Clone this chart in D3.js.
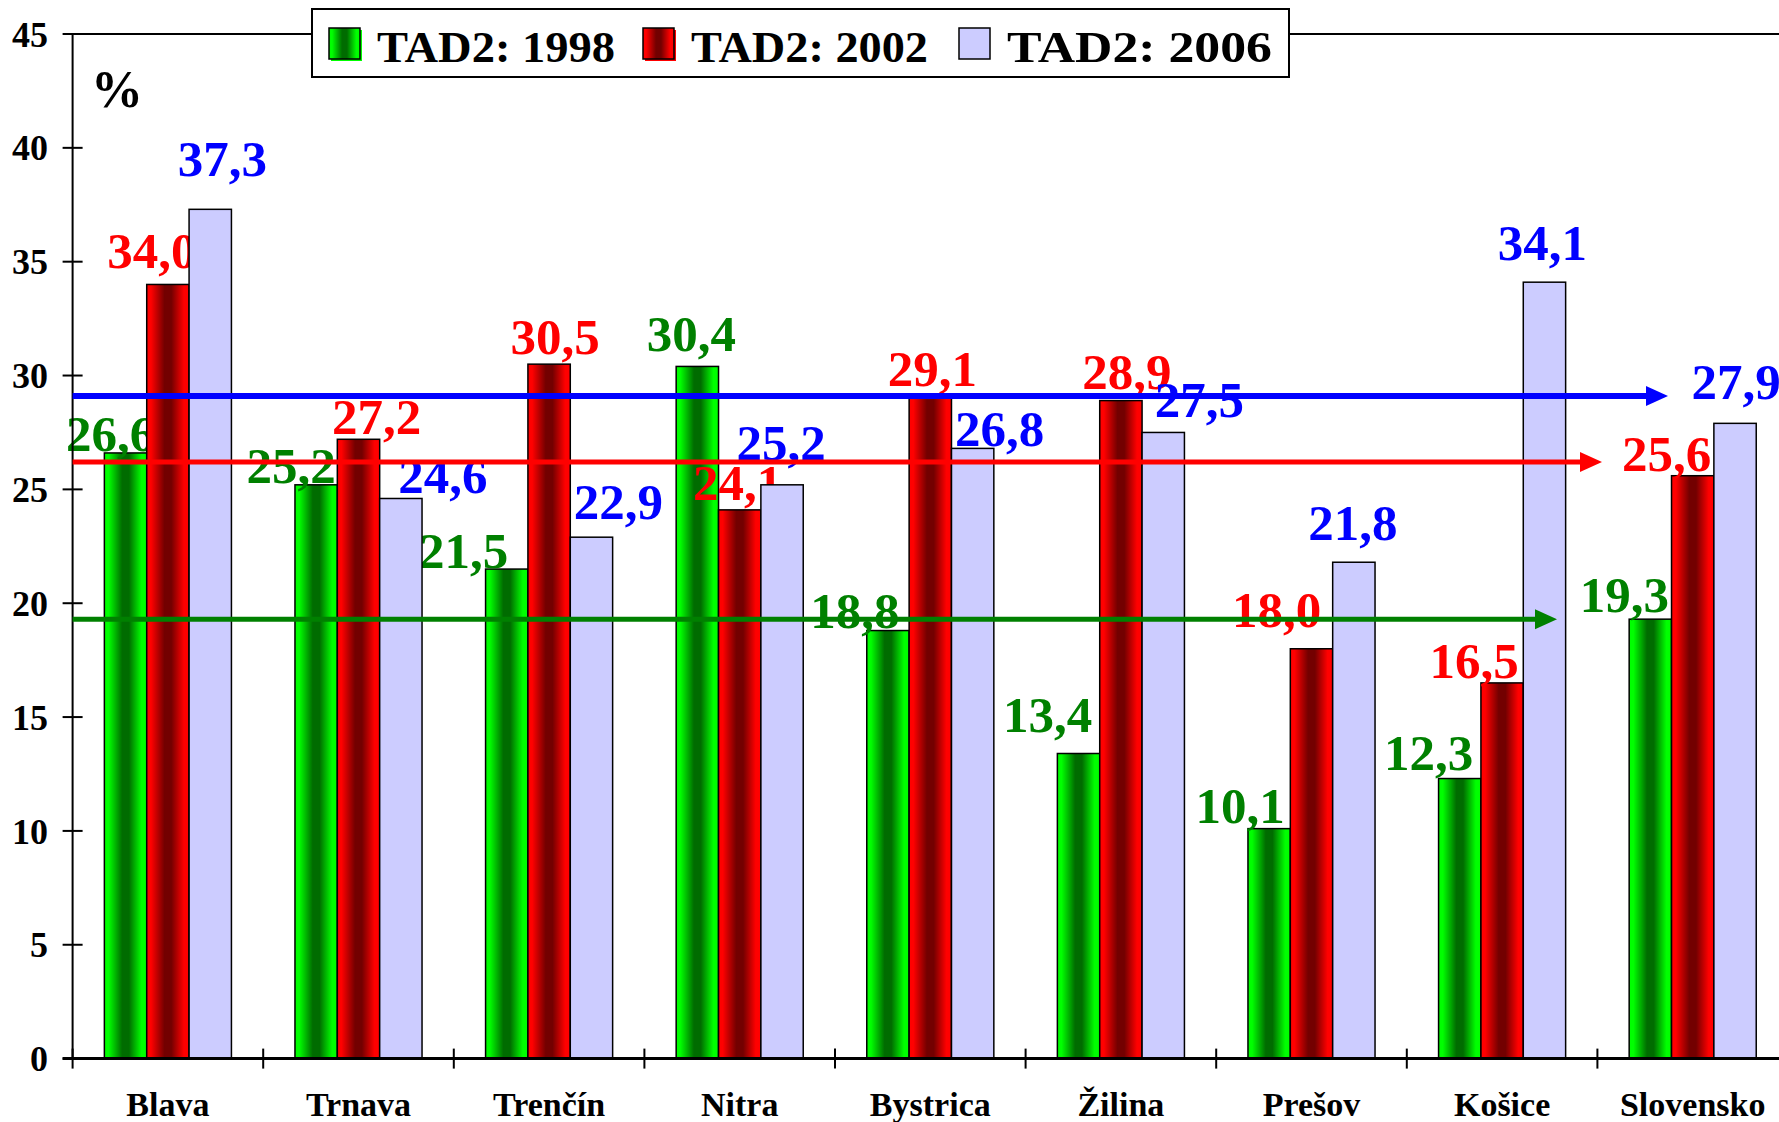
<!DOCTYPE html>
<html>
<head>
<meta charset="utf-8">
<script src="https://cdn.jsdelivr.net/npm/d3@7"></script>
<style>
  body { margin: 0; background: #fff; }
  svg { display: block; font-family: "Liberation Serif", "Times New Roman", serif; font-weight: bold; }
</style>
</head>
<body>
<svg id="chart"></svg>
<script>
var categories = ["Blava", "Trnava", "Trenčín", "Nitra", "Bystrica", "Žilina", "Prešov", "Košice", "Slovensko"];
var seriesNames = ["TAD2: 1998", "TAD2: 2002", "TAD2: 2006"];
var values1998 = [26.6, 25.2, 21.5, 30.4, 18.8, 13.4, 10.1, 12.3, 19.3];
var values2002 = [34.0, 27.2, 30.5, 24.1, 29.1, 28.9, 18.0, 16.5, 25.6];
var values2006 = [37.3, 24.6, 22.9, 25.2, 26.8, 27.5, 21.8, 34.1, 27.9];
var yTicks = [0, 5, 10, 15, 20, 25, 30, 35, 40, 45];
// horizontal reference arrows (1998, 2002, 2006)
var arrowLevels = [19.3, 26.2, 29.1];

// hand placed label nudges (dx, dy from bar top), as in the original
var labelDx = [
  [-15, -25, -43, -6, -33, -31, -29, -31, -26],
  [-16, 18, 6, -2, 2, 6, -35, -28, -26],
  [12, 42, 27, -1, 27, 36, -1, -2, 1]
];
var labelDy = [
  [-2, -2, -1, -15, -3, -21, -6, -9, -7],
  [-16, -5, -10, -10, -10, -12, -22, -5, -5],
  [-33, -5, -18, -25, -2, -15, -22, -22, -24]
];

var width = 1779, height = 1122;
var plotLeft = 72.6, plotTop = 34, plotBottom = 1058.6, step = 190.6;
var textColors = ["#008000", "#ff0000", "#0000ff"];
var arrowEnds = [1557, 1602, 1668];
var arrowWidths = [5, 5, 6];

var svg = d3.select("#chart")
    .attr("width", width)
    .attr("height", height);

var defs = svg.append("defs");
function gradient(id, edge, mid) {
  var g = defs.append("linearGradient")
      .attr("id", id)
      .attr("x1", "0%").attr("x2", "100%")
      .attr("y1", "0%").attr("y2", "0%");
  [[0, edge], [0.1, edge], [0.42, mid], [0.58, mid], [0.88, edge], [1, edge]].forEach(s => {
    g.append("stop").attr("offset", s[0]).attr("stop-color", s[1]);
  });
}
gradient("gGreen", "#00ff00", "#006c00");
gradient("gRed", "#ff0000", "#730000");
var fills = ["url(#gGreen)", "url(#gRed)", "#ccccff"];

var x0 = d3.scaleBand()
           .domain(categories)
           .range([plotLeft, plotLeft + step * categories.length])
           .padding(0);

var x1 = d3.scaleBand()
           .domain(seriesNames)
           .range([0, x0.bandwidth()])
           .paddingInner(0)
           .paddingOuter(0.75);

var y = d3.scaleLinear()
          .domain([0, 45])
          .range([plotBottom, plotTop]);

var table = seriesNames.map((s, i) => ({
  name: s,
  idx: i,
  values: [values1998, values2002, values2006][i]
}));

// plot top border
svg.append("line")
    .attr("x1", plotLeft).attr("x2", width)
    .attr("y1", y(45)).attr("y2", y(45))
    .attr("stroke", "#000")
    .attr("stroke-width", 2);

// bars
var groups = svg.selectAll(".series")
  .data(table)
  .enter()
  .append("g")
    .classed("series", true);

groups.selectAll("rect")
  .data(d => d.values.map((v, j) => ({ s: d.name, idx: d.idx, cat: categories[j], v: v })))
  .enter()
  .append("rect")
    .attr("x", d => x0(d.cat) + x1(d.s))
    .attr("y", d => y(d.v))
    .attr("width", x1.bandwidth())
    .attr("height", d => y(0) - y(d.v))
    .attr("fill", d => fills[d.idx])
    .attr("stroke", "#000")
    .attr("stroke-width", 1.5);

// y axis
svg.append("line")
    .attr("x1", plotLeft).attr("x2", plotLeft)
    .attr("y1", y(45)).attr("y2", y(0))
    .attr("stroke", "#000")
    .attr("stroke-width", 2);

svg.selectAll(".ytick")
  .data(yTicks)
  .enter()
  .append("line")
    .classed("ytick", true)
    .attr("x1", plotLeft - 10).attr("x2", plotLeft + 10)
    .attr("y1", d => y(d)).attr("y2", d => y(d))
    .attr("stroke", "#000")
    .attr("stroke-width", 2);

svg.selectAll(".ylabel")
  .data(yTicks)
  .enter()
  .append("text")
    .classed("ylabel", true)
    .attr("x", 48)
    .attr("y", d => y(d))
    .attr("dy", "0.35em")
    .attr("font-size", 36)
    .style("text-anchor", "end")
    .text(d => d);

svg.append("text")
    .attr("x", 91)
    .attr("y", 107)
    .attr("font-size", 52)
    .text("%");

// x axis
svg.append("line")
    .attr("x1", plotLeft - 10).attr("x2", width)
    .attr("y1", y(0)).attr("y2", y(0))
    .attr("stroke", "#000")
    .attr("stroke-width", 3);

svg.selectAll(".xtick")
  .data(categories)
  .enter()
  .append("line")
    .classed("xtick", true)
    .attr("x1", d => x0(d)).attr("x2", d => x0(d))
    .attr("y1", y(0) - 10).attr("y2", y(0) + 10)
    .attr("stroke", "#000")
    .attr("stroke-width", 2);

svg.selectAll(".xlabel")
  .data(categories)
  .enter()
  .append("text")
    .classed("xlabel", true)
    .attr("x", d => x0(d) + x0.bandwidth() / 2)
    .attr("y", 1116)
    .attr("font-size", 34)
    .style("text-anchor", "middle")
    .text(d => d);

// value labels
groups.selectAll("text")
  .data(d => d.values.map((v, j) => ({ s: d.name, idx: d.idx, j: j, cat: categories[j], v: v })))
  .enter()
  .append("text")
    .attr("x", d => x0(d.cat) + x1(d.s) + x1.bandwidth() / 2 + labelDx[d.idx][d.j])
    .attr("y", d => y(d.v) + labelDy[d.idx][d.j])
    .attr("font-size", 51)
    .attr("fill", d => textColors[d.idx])
    .style("text-anchor", "middle")
    .text(d => d3.format(".1f")(d.v).replace(".", ","));

// arrows, drawn over the labels like in the original
table.forEach((d, i) => {
  var ay = y(arrowLevels[i]);
  var tip = arrowEnds[i];
  svg.append("line")
      .attr("x1", plotLeft).attr("x2", tip - 18)
      .attr("y1", ay).attr("y2", ay)
      .attr("stroke", textColors[i])
      .attr("stroke-width", arrowWidths[i]);
  svg.append("path")
      .attr("d", "M" + tip + "," + ay + "L" + (tip - 22) + "," + (ay - 10) + "L" + (tip - 22) + "," + (ay + 10) + "Z")
      .attr("fill", textColors[i]);
});

// legend
var legend = svg.append("g");
legend.append("rect")
    .attr("x", 312).attr("y", 9)
    .attr("width", 977).attr("height", 68)
    .attr("fill", "#fff")
    .attr("stroke", "#000")
    .attr("stroke-width", 2);

var legendX = [329, 643, 959];
var legendTextLen = [238, 237, 265];
seriesNames.forEach((s, i) => {
  if (i < 2) {
    legend.append("rect")
        .attr("x", legendX[i] + 2).attr("y", 30)
        .attr("width", 31).attr("height", 31)
        .attr("fill", i === 0 ? "#00ff00" : "#ff0000");
  }
  legend.append("rect")
      .attr("x", legendX[i]).attr("y", 28)
      .attr("width", 31).attr("height", 31)
      .attr("fill", fills[i])
      .attr("stroke", "#000")
      .attr("stroke-width", 1.5);
  legend.append("text")
      .attr("x", legendX[i] + 48)
      .attr("y", 62)
      .attr("font-size", 45)
      .attr("textLength", legendTextLen[i])
      .attr("lengthAdjust", "spacingAndGlyphs")
      .text(s);
});
</script>
</body>
</html>
